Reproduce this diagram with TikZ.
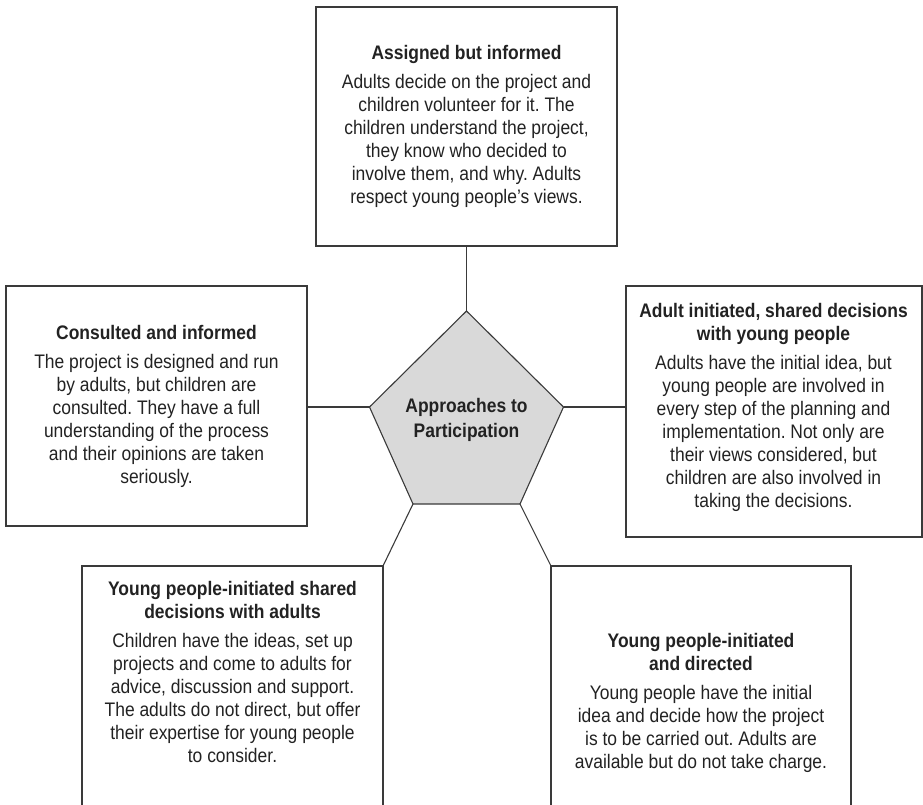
\documentclass[tikz,border=0pt]{standalone}
\usepackage{fontspec}
\setmainfont{Liberation Sans}[FakeStretch=0.89]
\frenchspacing
\definecolor{linec}{HTML}{3A3A3A}
\definecolor{textc}{HTML}{222222}
\definecolor{pentfill}{HTML}{D9D9D9}
\begin{document}
\begin{tikzpicture}[x=1pt,y=-1pt,
  box/.style={draw=linec, line width=1.3pt, rectangle, inner sep=0pt},
  txt/.style={align=center, text=textc, font=\fontsize{19.6}{23}\selectfont, inner sep=0pt},
  conn/.style={draw=linec, line width=1.1pt},
  frame/.style={draw=linec, line width=1.3pt}]
\useasboundingbox (0,0) rectangle (923,805);
\clip (0,0) rectangle (923,805);
% boxes
\node[box, minimum width=301pt, minimum height=239pt] (topbox) at (466.5,126.5) {};
\node[box, minimum width=301pt, minimum height=240pt] (leftbox) at (156.5,406) {};
\node[box, minimum width=296pt, minimum height=251pt] (rightbox) at (774,411.5) {};
% open frames of bottom boxes
\coordinate (blTL) at (82,566);
\coordinate (blTR) at (383,566);
\coordinate (brTL) at (551,566);
\coordinate (brTR) at (851,566);
\draw[frame] (blTL |- 0,806) -- (blTL) -- (blTR) -- (blTR |- 0,806);
\draw[frame] (brTL |- 0,806) -- (brTL) -- (brTR) -- (brTR |- 0,806);
% pentagon
\coordinate (pT) at (466.5,311);
\coordinate (pR) at (563.5,407);
\coordinate (pBR) at (520,504);
\coordinate (pBL) at (413,504);
\coordinate (pL) at (369.5,407);
\filldraw[fill=pentfill, draw=linec, line width=1.1pt] (pT) -- (pR) -- (pBR) -- (pBL) -- (pL) -- cycle;
\node[txt] (center) at (466.5,420) {\textbf{Approaches to}\\[2pt]\textbf{Participation}};
% connectors
\draw[conn] (topbox.south) -- (pT);
\draw[conn] (leftbox.east |- pL) -- (pL);
\draw[conn] (pR) -- (rightbox.west |- pR);
\draw[conn] (pBL) -- (blTR);
\draw[conn] (pBR) -- (brTL);
% texts
\node[txt] (toptext) at (topbox.center) {\textbf{Assigned but informed}\\[6pt]
Adults decide on the project and\\
children volunteer for it. The\\
children understand the project,\\
they know who decided to\\
involve them, and why. Adults\\
respect young people’s views.};
\node[txt] (lefttext) at (leftbox.center) {\textbf{Consulted and informed}\\[6pt]
The project is designed and run\\
by adults, but children are\\
consulted. They have a full\\
understanding of the process\\
and their opinions are taken\\
seriously.};
\node[txt] (righttext) at (773.5,407.5) {\textbf{Adult initiated, shared decisions}\\
\textbf{with young people}\\[6pt]
Adults have the initial idea, but\\
young people are involved in\\
every step of the planning and\\
implementation. Not only are\\
their views considered, but\\
children are also involved in\\
taking the decisions.};
\node[txt] (bltext) at (232.5,672) {\textbf{Young people-initiated shared}\\
\textbf{decisions with adults}\\[6pt]
Children have the ideas, set up\\
projects and come to adults for\\
advice, discussion and support.\\
The adults do not direct, but offer\\
their expertise for young people\\
to consider.};
\node[txt] (brtext) at (701,703) {\textbf{Young people-initiated}\\
\textbf{and directed}\\[6pt]
Young people have the initial\\
idea and decide how the project\\
is to be carried out. Adults are\\
available but do not take charge.};
\end{tikzpicture}
\end{document}
